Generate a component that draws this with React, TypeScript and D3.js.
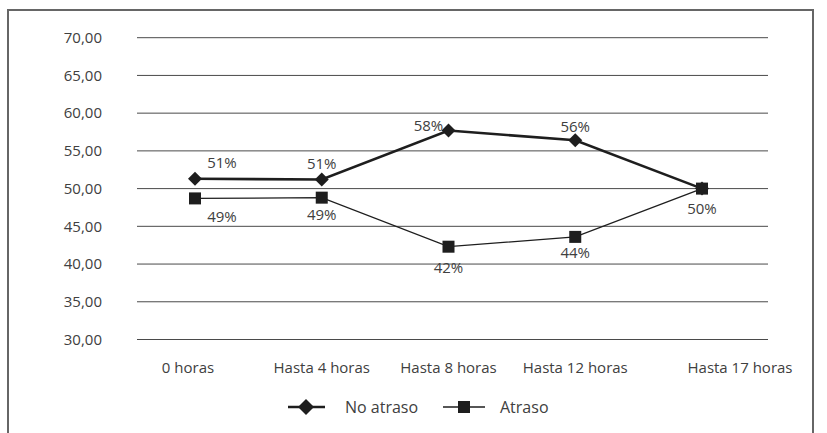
import React from "react";
import * as d3 from "d3";

const categories = ["0 horas", "Hasta 4 horas", "Hasta 8 horas", "Hasta 12 horas", "Hasta 17 horas"];
const noAtraso = [51.3, 51.2, 57.7, 56.4, 50.0];
const atraso = [48.7, 48.8, 42.3, 43.6, 50.0];
const yTicks = [30, 35, 40, 45, 50, 55, 60, 65, 70];

const W = 827;
const H = 433;
const FONT = "'Open Sans', 'Noto Sans', sans-serif";
const INK = "#1e1e1e";
const TXT = "#404040";

const fmtTick = (v: number) => v.toFixed(2).replace(".", ",");
const fmtPct = (v: number) => `${Math.round(v)}%`;

// label nudges (dx, dy) per point, per series
const noAtrasoLabel: [number, number][] = [[27, -16], [0, -16], [-20, -5], [0, -14], [0, 0]];
const atrasoLabel: [number, number][] = [[27, 18], [0, 17], [0, 21], [0, 16], [0, 20]];

const App: React.FC = () => {
  const gridLeft = 137;
  const gridRight = 768;

  const x = d3.scalePoint<string>().domain(categories).range([195, 702]);
  const y = d3.scaleLinear().domain([30, 70]).range([339.5, 37.7]);

  const line = d3
    .line<number>()
    .x((_, i) => x(categories[i]) as number)
    .y((d) => y(d));

  const diamond = (cx: number, cy: number, r = 7) =>
    `M${cx},${cy - r}L${cx + r},${cy}L${cx},${cy + r}L${cx - r},${cy}Z`;

  return (
    <svg
      width={W}
      height={H}
      style={{ position: "absolute", left: 0, top: 0, background: "#fff" }}
      fontFamily={FONT}
    >
      <rect x={8} y={10} width={805} height={440} fill="none" stroke="#666" strokeWidth={2} />

      {yTicks.map((t) => (
        <g key={t}>
          <line x1={gridLeft} x2={gridRight} y1={y(t)} y2={y(t)} stroke="#4a4a4a" strokeWidth={1} />
          <text x={102} y={y(t)} dy="0.35em" textAnchor="end" fontSize={15} fill={TXT}>
            {fmtTick(t)}
          </text>
        </g>
      ))}

      {categories.map((c, i) => (
        <text
          key={c}
          x={(x(c) as number) + (i === 0 ? -7 : i === categories.length - 1 ? 38 : 0)}
          y={368}
          dy="0.35em"
          textAnchor="middle"
          fontSize={15}
          fill={TXT}
        >
          {c}
        </text>
      ))}

      <path d={line(atraso) || ""} fill="none" stroke={INK} strokeWidth={1.3} />
      <path d={line(noAtraso) || ""} fill="none" stroke={INK} strokeWidth={2.6} />

      {noAtraso.map((v, i) => (
        <path key={`d${i}`} d={diamond(x(categories[i]) as number, y(v))} fill={INK} />
      ))}
      {atraso.map((v, i) => (
        <rect key={`s${i}`} x={(x(categories[i]) as number) - 6} y={y(v) - 6} width={12} height={12} fill={INK} />
      ))}

      {noAtraso.map((v, i) =>
        i === categories.length - 1 ? null : (
          <text
            key={`ln${i}`}
            x={(x(categories[i]) as number) + noAtrasoLabel[i][0]}
            y={y(v) + noAtrasoLabel[i][1]}
            dy="0.35em"
            textAnchor="middle"
            fontSize={15}
            fill={TXT}
          >
            {fmtPct(v)}
          </text>
        )
      )}
      {atraso.map((v, i) => (
        <text
          key={`la${i}`}
          x={(x(categories[i]) as number) + atrasoLabel[i][0]}
          y={y(v) + atrasoLabel[i][1]}
          dy="0.35em"
          textAnchor="middle"
          fontSize={15}
          fill={TXT}
        >
          {fmtPct(v)}
        </text>
      ))}

      {/* legend */}
      <g transform="translate(0,407)">
        <line x1={288} x2={325} y1={0} y2={0} stroke={INK} strokeWidth={2.6} />
        <path d={diamond(306, 0, 8)} fill={INK} />
        <text x={345} y={0} dy="0.35em" fontSize={16} fill={TXT}>No atraso</text>
        <line x1={443} x2={485} y1={0} y2={0} stroke={INK} strokeWidth={1.3} />
        <rect x={458} y={-6} width={12} height={12} fill={INK} />
        <text x={500} y={0} dy="0.35em" fontSize={16} fill={TXT}>Atraso</text>
      </g>
    </svg>
  );
};

export default App;
